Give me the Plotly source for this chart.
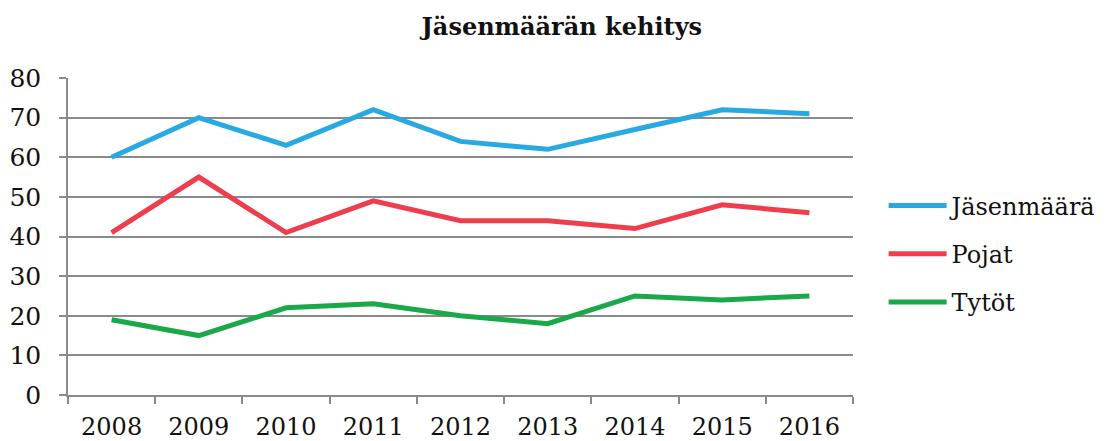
import plotly.graph_objects as go

years = ["2008", "2009", "2010", "2011", "2012", "2013", "2014", "2015", "2016"]
jasenmaara = [60, 70, 63, 72, 64, 62, 67, 72, 71]
pojat = [41, 55, 41, 49, 44, 44, 42, 48, 46]
tytot = [19, 15, 22, 23, 20, 18, 25, 24, 25]

series = [
    ("Jäsenmäärä", jasenmaara, "#29A9E1"),
    ("Pojat", pojat, "#EE3E4D"),
    ("Tytöt", tytot, "#1BA84A"),
]

FONT = "DejaVu Serif"
GRID = "#8a8a8a"

fig = go.Figure()
for name, vals, col in series:
    fig.add_trace(go.Scatter(x=years, y=vals, name=name, mode="lines",
                             legendgroup=name,
                             line=dict(color=col, width=5)))

fig.update_layout(
    width=1101, height=433,
    margin=dict(l=60, r=256, t=70, b=46, autoexpand=False),
    paper_bgcolor="white", plot_bgcolor="white",
    font=dict(family=FONT, size=24, color="#111111"),
    title=dict(text="<b>Jäsenmäärän kehitys</b>", x=0.503, xref="container",
               xanchor="center", y=0.956, yref="container", yanchor="middle",
               font=dict(family=FONT, size=24, color="#111111")),
    showlegend=True,
    legend=dict(x=1.039, xanchor="left", y=0.445, yanchor="middle",
                font=dict(family=FONT, size=24), tracegroupgap=14,
                itemwidth=58, bgcolor="rgba(0,0,0,0)"),
    xaxis=dict(type="category", tickson="boundaries", ticks="outside", ticklen=7,
               tickcolor=GRID, tickwidth=1.5, showline=True, linecolor=GRID,
               linewidth=1.5, showgrid=False, range=[-0.5, 8.5], automargin=False,
               ticklabelstandoff=9,
               tickfont=dict(family=FONT, size=24)),
    yaxis=dict(range=[0, 80], dtick=10, ticks="outside", ticklen=7,
               tickcolor=GRID, tickwidth=1.5, showline=True, linecolor=GRID,
               linewidth=1.5, showgrid=True, gridcolor=GRID, gridwidth=1.5,
               zeroline=False, ticklabelstandoff=13, automargin=False,
               tickfont=dict(family=FONT, size=25)),
)

fig.write_html("out.html")
